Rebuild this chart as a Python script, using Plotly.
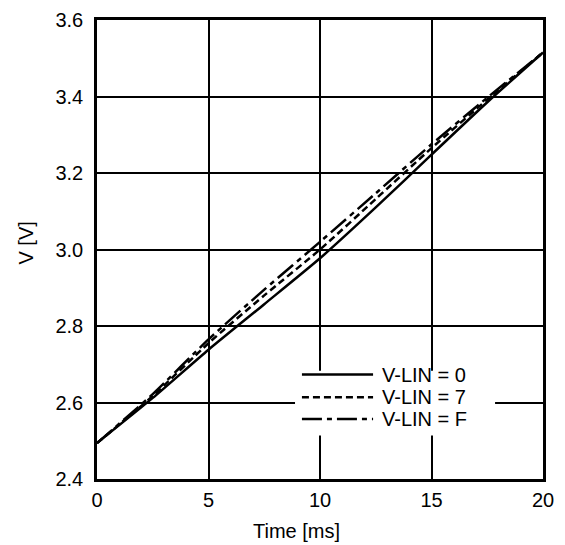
import plotly.graph_objects as go

# time axis (ms)
time_ms = [0, 2.5, 5, 7.5, 10, 12.5, 15, 17.5, 20]

# output voltage for each V-LIN setting
v_lin_0 = [2.494, 2.612, 2.738, 2.857, 2.977, 3.11, 3.248, 3.385, 3.515]
v_lin_7 = [2.494, 2.617, 2.755, 2.88, 3.0, 3.132, 3.265, 3.392, 3.515]
v_lin_f = [2.494, 2.622, 2.765, 2.895, 3.02, 3.147, 3.275, 3.397, 3.515]

series_names = ["V-LIN = 0", "V-LIN = 7", "V-LIN = F"]
dashes = ["solid", "7px,4px", "20px,5px,5px,5px"]

x_ticks = [0, 5, 10, 15, 20]
y_ticks = [2.4, 2.6, 2.8, 3.0, 3.2, 3.4, 3.6]

font = "Liberation Sans, Arial, sans-serif"

fig = go.Figure()
for name, ys, dash in zip(series_names, [v_lin_0, v_lin_7, v_lin_f], dashes):
    fig.add_trace(go.Scatter(x=time_ms, y=ys, mode="lines", name=name,
                             line=dict(color="black", width=2.5, dash=dash,
                                       shape="spline", smoothing=0.6)))

# hand-drawn style legend: white box, long line samples, labels
fig.add_shape(type="rect", xref="x", yref="y", x0=8.88, x1=17.85, y0=2.514, y1=2.683,
              fillcolor="white", line=dict(width=0), layer="above")
legend_rows = [2.673, 2.614, 2.557]
for name, dash, yrow in zip(series_names, dashes, legend_rows):
    fig.add_shape(type="line", xref="x", yref="y", x0=9.19, x1=12.38, y0=yrow, y1=yrow,
                  line=dict(color="black", width=2.5, dash=dash), layer="above")
    fig.add_annotation(x=12.69, y=yrow, xref="x", yref="y", text=name, showarrow=False,
                       xanchor="left", yanchor="middle", font=dict(size=20))

# axis titles
fig.add_annotation(x=0.448, y=0, xref="paper", yref="paper", yshift=-52,
                   text="Time [ms]", showarrow=False, xanchor="center", yanchor="middle",
                   font=dict(size=20))
fig.add_annotation(x=0, y=0.513, xref="paper", yref="paper", xshift=-71,
                   text="V [V]", showarrow=False, textangle=-90,
                   xanchor="center", yanchor="middle", font=dict(size=20))

fig.update_layout(
    width=565, height=545,
    margin=dict(l=97, r=22, t=20, b=66),
    paper_bgcolor="white", plot_bgcolor="white",
    font=dict(family=font, size=20, color="black"),
    showlegend=False,
)
fig.update_xaxes(
    range=[0, 20], tickvals=x_ticks, ticktext=[str(t) for t in x_ticks],
    showgrid=True, gridcolor="black", gridwidth=1.6,
    showline=True, linecolor="black", linewidth=2.5, mirror=True,
    ticks="", ticklabelstandoff=1, zeroline=False, automargin=False,
)
fig.update_yaxes(
    range=[2.4, 3.6], tickvals=y_ticks, ticktext=[f"{t:.1f}" for t in y_ticks],
    showgrid=True, gridcolor="black", gridwidth=1.6,
    showline=True, linecolor="black", linewidth=2.5, mirror=True,
    ticks="", ticklabelstandoff=7, zeroline=False, automargin=False,
)

# page has a default 8px body margin; drop it so the figure fills the window
fig.write_html("out.html", config={"displayModeBar": False},
               post_script="document.body.style.margin='0';")
